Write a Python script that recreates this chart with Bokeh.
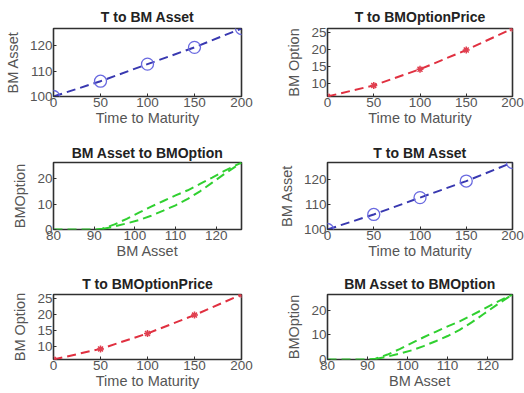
from bokeh.plotting import figure
from bokeh.layouts import gridplot
from bokeh.models import Range1d, FixedTicker
from bokeh.embed import file_html
from bokeh.resources import INLINE

# Time to maturity samples and the simulated Brownian-motion asset path
t_steps = [0, 50, 100, 150, 200]
bm_asset = [100.0, 106.0, 112.7, 119.3, 126.7]
bm_option = [6.1, 9.4, 14.2, 19.9, 26.3]

# Option value against asset level (two passes of the path)
asset_a = [80, 85, 90, 92, 95, 98, 101, 104, 107, 110, 113, 116, 119, 122, 126.2]
option_a = [0.0, 0.0, 0.0, 0.3, 2.0, 4.2, 6.6, 9.0, 11.2, 13.4, 15.4, 17.9, 20.4, 23.0, 26.3]
asset_b = [92, 95, 98, 101, 104, 107, 110, 113, 116, 119, 122, 126.2]
option_b = [0.2, 1.2, 2.4, 3.7, 5.4, 7.4, 9.5, 12.0, 15.0, 18.4, 21.8, 26.3]

FONT = "Liberation Sans"
W, H = 262, 131


def make_panel(title, xlabel, ylabel, xr, yr, xt, yt, borders, title_gap):
    left, right, top, bottom = borders
    p = figure(width=W, height=H, output_backend="svg", toolbar_location=None,
               x_range=Range1d(*xr), y_range=Range1d(*yr),
               min_border_left=left, min_border_right=right,
               min_border_top=top, min_border_bottom=bottom,
               background_fill_color="white", border_fill_color="white")
    p.title.text = title
    p.title.align = "center"
    p.title.text_font = FONT
    p.title.text_font_size = "14px"
    p.title.text_font_style = "bold"
    p.title.text_color = "#222222"
    p.title.standoff = title_gap
    p.grid.visible = False
    p.outline_line_color = "#303030"
    p.outline_line_width = 1.6
    p.outline_line_alpha = 1.0
    p.xaxis.ticker = FixedTicker(ticks=xt)
    p.yaxis.ticker = FixedTicker(ticks=yt)
    p.xaxis.axis_label = xlabel
    p.yaxis.axis_label = ylabel
    for ax in (p.xaxis[0], p.yaxis[0]):
        ax.axis_line_color = None
        ax.major_tick_in = 3
        ax.major_tick_out = 0
        ax.major_tick_line_color = "#303030"
        ax.minor_tick_line_color = None
        ax.major_label_text_font = FONT
        ax.major_label_text_font_size = "13.5px"
        ax.major_label_text_color = "#555555"
        ax.axis_label_text_font = FONT
        ax.axis_label_text_font_size = "14.5px"
        ax.axis_label_text_font_style = "normal"
        ax.axis_label_text_color = "#555555"
        ax.major_label_standoff = 1
    p.xaxis.axis_label_standoff = 0
    p.yaxis.axis_label_standoff = 6
    return p


def asset_panel(borders, title_gap):
    p = make_panel("T to BM Asset", "Time to Maturity", "BM Asset",
                   (0, 200), (100, 126.7), [0, 50, 100, 150, 200], [100, 110, 120],
                   borders, title_gap)
    p.line(t_steps, bm_asset, line_color="#3838b0", line_width=2, line_dash="9 5")
    p.scatter(t_steps, bm_asset, marker="circle", size=12, fill_color=None,
              line_color="#6a6ae0", line_width=1.3)
    return p


def option_panel(borders, title_gap):
    p = make_panel("T to BMOptionPrice", "Time to Maturity", "BM Option",
                   (0, 200), (6.1, 26.3), [0, 50, 100, 150, 200], [10, 15, 20, 25],
                   borders, title_gap)
    p.line(t_steps, bm_option, line_color="#e03040", line_width=2, line_dash="9 5")
    p.scatter(t_steps, bm_option, marker="asterisk", size=7,
              line_color="#e04050", line_width=1.5)
    return p


def asset_option_panel(borders, title_gap):
    p = make_panel("BM Asset to BMOption", "BM Asset", "BMOption",
                   (80, 126.2), (0, 26.3), [80, 90, 100, 110, 120], [0, 10, 20],
                   borders, title_gap)
    p.line(asset_a, option_a, line_color="#30d030", line_width=2, line_dash="9 5")
    p.line(asset_b, option_b, line_color="#30d030", line_width=2, line_dash="9 5")
    return p


p1 = asset_panel((53, 20, 28, 35), 8)
p2 = option_panel((63, 9, 27, 34), 7)
p3 = asset_option_panel((53, 20, 31, 33), 3)
p4 = asset_panel((63, 9, 31, 33), 3)
p5 = option_panel((53, 21, 32, 33), 5)
p6 = asset_option_panel((65, 12, 32, 34), 5)

grid = gridplot([[p1, p2], [p3, p4], [p5, p6]], toolbar_location=None)

open("out.html", "w").write(file_html(grid, INLINE))
